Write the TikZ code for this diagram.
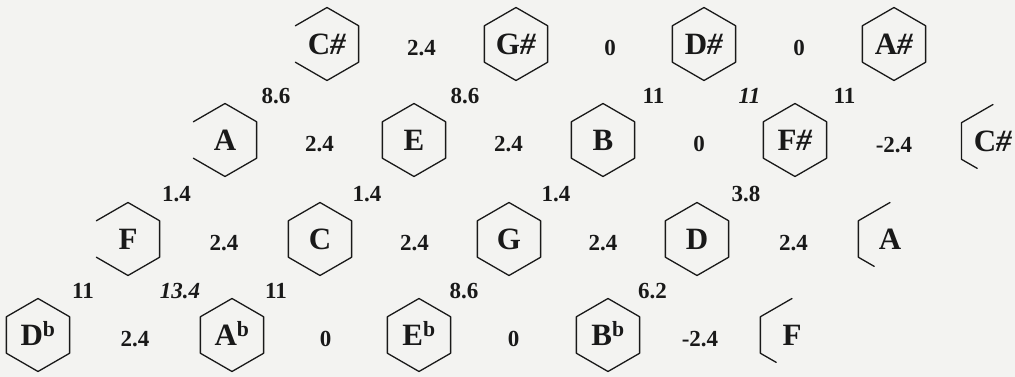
\documentclass[tikz,border=0pt]{standalone}
\usepackage{fontspec}
\setmainfont{Liberation Serif}
\usetikzlibrary{calc}

\definecolor{paper}{RGB}{243,243,241}
\definecolor{ink}{RGB}{25,25,25}

\begin{document}
\begin{tikzpicture}[
  x=1pt, y=-1pt,
  every node/.style={text=ink},
  note/.style={inner sep=0pt, text height=20.5pt, text depth=0pt, font=\bfseries\fontsize{31}{31}\selectfont},
  num/.style={inner sep=0pt, yshift=-4pt, text height=15.5pt, text depth=0pt, font=\bfseries\fontsize{23}{23}\selectfont},
  hex/.style={draw=ink, line width=1.3pt, line join=round, line cap=round}
]
  \fill[paper] (0,0) rectangle (1015,377);
  \useasboundingbox (0,0) rectangle (1015,377);
  \def\hexr{36.5pt}
  \def\hexm{31.6pt}

  % notes, row by row
  \node[note] (Cs1) at (327,44) {C\textit{\#}};
  \node[note] (Gs1) at (516,44) {G\textit{\#}};
  \node[note] (Ds1) at (704,44) {D\textit{\#}};
  \node[note] (As1) at (894,44) {A\textit{\#}};

  \node[note] (A2)  at (225,140) {A};
  \node[note] (E2)  at (414,140) {E};
  \node[note] (B2)  at (603,140) {B};
  \node[note] (Fs2) at (795,140) {F\textit{\#}};
  \node[note] (Cs2) at (993,141) {C\textit{\#}};

  \node[note] (F3)  at (128,239) {F};
  \node[note] (C3)  at (320,239) {C};
  \node[note] (G3)  at (509,239) {G};
  \node[note] (D3)  at (697,239) {D};
  \node[note] (A3)  at (890,239) {A};

  \node[note] (Db4) at (38,335)  {D\textsuperscript{b}};
  \node[note] (Ab4) at (232,335) {A\textsuperscript{b}};
  \node[note] (Eb4) at (419,335) {E\textsuperscript{b}};
  \node[note] (Bb4) at (608,335) {B\textsuperscript{b}};
  \node[note] (F4)  at (792,335) {F};

  % full hexagons
  \foreach \n in {Gs1,Ds1,As1,E2,B2,Fs2,C3,G3,D3,Db4,Ab4,Eb4,Bb4}
    \draw[hex] ($(\n)+(90:\hexr)$) -- ($(\n)+(30:\hexr)$) -- ($(\n)+(-30:\hexr)$)
      -- ($(\n)+(-90:\hexr)$) -- ($(\n)+(-150:\hexr)$) -- ($(\n)+(150:\hexr)$) -- cycle;
  % open on the left
  \foreach \n in {Cs1,A2,F3}
    \draw[hex] ($(\n)+(150:\hexr)$) -- ($(\n)+(90:\hexr)$) -- ($(\n)+(30:\hexr)$)
      -- ($(\n)+(-30:\hexr)$) -- ($(\n)+(-90:\hexr)$) -- ($(\n)+(-150:\hexr)$);
  % cut off at the right edge
  \foreach \n in {Cs2,A3,F4}
    \draw[hex] ($(\n)+(90:\hexr)$) -- ($(\n)+(150:\hexr)$) -- ($(\n)+(210:\hexr)$)
      -- ($(\n)+(240:\hexm)$);

  % values between neighbours
  \foreach \a/\b/\v in {Cs1/Gs1/2.4, Gs1/Ds1/0, Ds1/As1/0,
      A2/Cs1/8.6, E2/Gs1/8.6, B2/Ds1/11, Fs2/Ds1/\textit{11}, Fs2/As1/11,
      A2/E2/2.4, E2/B2/2.4, B2/Fs2/0, Fs2/Cs2/-2.4,
      F3/A2/1.4, C3/E2/1.4, G3/B2/1.4, D3/Fs2/3.8,
      F3/C3/2.4, C3/G3/2.4, G3/D3/2.4, D3/A3/2.4,
      Db4/F3/11, Ab4/F3/\textit{13.4}, Ab4/C3/11, Eb4/G3/8.6, Bb4/D3/6.2,
      Db4/Ab4/2.4, Ab4/Eb4/0, Eb4/Bb4/0, Bb4/F4/-2.4}
    \node[num] (v\a\b) at ($(\a)!0.5!(\b)$) {\v};
\end{tikzpicture}
\end{document}
